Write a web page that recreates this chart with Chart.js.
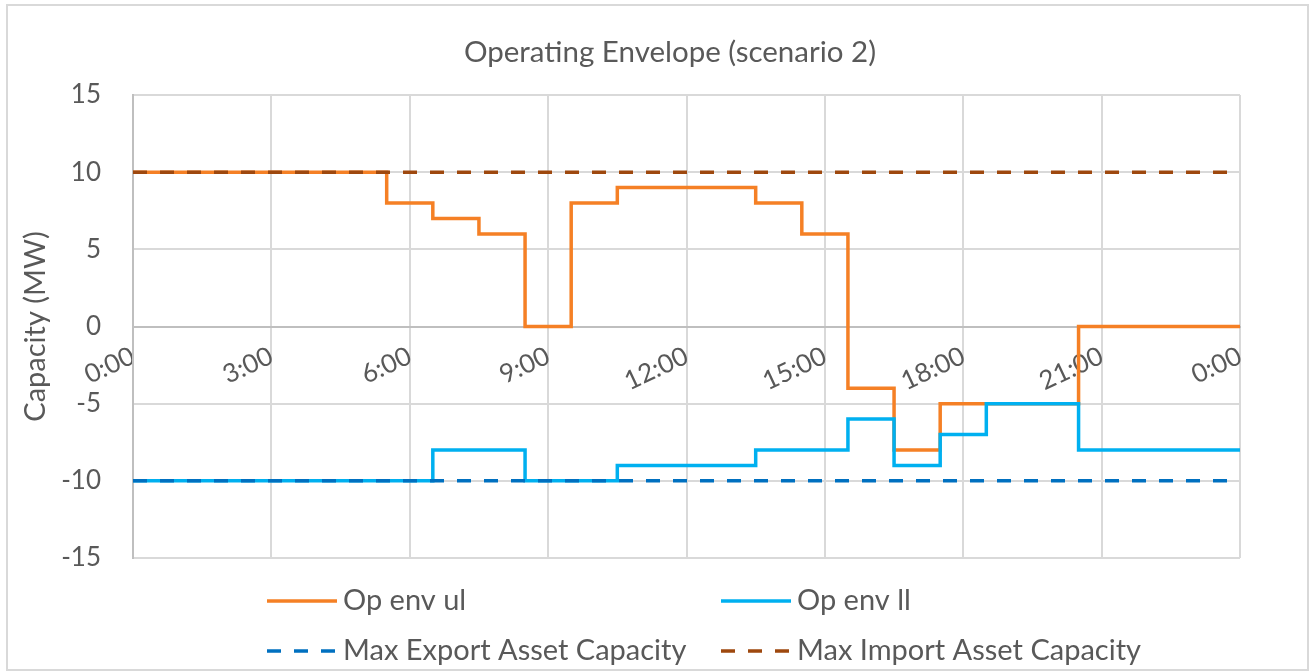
<!DOCTYPE html>
<html>
<head>
<meta charset="utf-8">
<title>Operating Envelope (scenario 2)</title>
<script src="https://cdn.jsdelivr.net/npm/chart.js@4/dist/chart.umd.min.js"></script>
<style>
  html, body { margin: 0; padding: 0; background: #fff; }
  canvas { display: block; }
</style>
</head>
<body>
<canvas id="envelopeChart" width="1310" height="672"></canvas>
<script>
// hours of the day where each series changes value
var ulTimes = [0, 5.5, 6.5, 7.5, 8.5, 9.5, 10.5, 13.5, 14.5, 15.5, 16.5, 17.5, 20.5, 24];
var ulValues = [10, 8, 7, 6, 0, 8, 9, 8, 6, -4, -8, -5, 0, 0];

var llTimes = [0, 6.5, 8.5, 10.5, 13.5, 15.5, 16.5, 17.5, 18.5, 20.5, 24];
var llValues = [-10, -8, -10, -9, -8, -6, -9, -7, -5, -8, -8];

var limitTimes = [0, 24];
var maxExport = [-10, -10];
var maxImport = [10, 10];

var seriesNames = ["Op env ul", "Op env ll", "Max Export Asset Capacity", "Max Import Asset Capacity"];
var yTicks = [-15, -10, -5, 0, 5, 10, 15];

var textColor = '#595959';
var fontFamily = 'Lato, "Open Sans", sans-serif';

function toPoints(times, values) {
    return times.map(function (t, i) { return { x: t, y: values[i] }; });
}

// title, legend and outer frame drawn by hand so they sit where Excel put them
var framePlugin = {
    id: 'frame',
    beforeDraw: function (chart) {
        var ctx = chart.ctx;
        ctx.save();
        ctx.fillStyle = '#fff';
        ctx.fillRect(0, 0, chart.width, chart.height);
        ctx.strokeStyle = '#D9D9D9';
        ctx.lineWidth = 2;
        ctx.strokeRect(7, 5, 1301, 665);
        ctx.restore();
    },
    afterDraw: function (chart) {
        var ctx = chart.ctx;
        ctx.save();
        ctx.fillStyle = textColor;
        ctx.textBaseline = 'middle';
        ctx.textAlign = 'center';
        ctx.font = '29.5px ' + fontFamily;
        ctx.fillText('Operating Envelope (scenario 2)', 670, 52);

        var cols = [267, 721];
        var rows = [601, 651];
        ctx.font = '29px ' + fontFamily;
        chart.data.datasets.forEach(function (ds, i) {
            var x = cols[i % 2];
            var y = rows[Math.floor(i / 2)];
            ctx.beginPath();
            ctx.strokeStyle = ds.borderColor;
            ctx.lineWidth = ds.borderWidth;
            ctx.setLineDash(ds.borderDash || []);
            ctx.moveTo(x, y);
            ctx.lineTo(x + 70, y);
            ctx.stroke();
            ctx.setLineDash([]);
            ctx.textAlign = 'left';
            ctx.fillText(ds.label, x + 76, y);
        });
        ctx.restore();
    }
};

var ctx = document.getElementById('envelopeChart').getContext('2d');
var envelopeChart = new Chart(ctx, {
    type: 'line',
    data: {
        datasets: [{
            label: seriesNames[0],
            data: toPoints(ulTimes, ulValues),
            borderColor: '#F58025',
            borderWidth: 3.5,
            stepped: 'before',
            pointRadius: 0,
            order: 4
        }, {
            label: seriesNames[1],
            data: toPoints(llTimes, llValues),
            borderColor: '#00B0F0',
            borderWidth: 3.5,
            stepped: 'before',
            pointRadius: 0,
            order: 3
        }, {
            label: seriesNames[2],
            data: toPoints(limitTimes, maxExport),
            borderColor: '#0070C0',
            borderWidth: 3.5,
            borderDash: [14, 13],
            pointRadius: 0,
            order: 2
        }, {
            label: seriesNames[3],
            data: toPoints(limitTimes, maxImport),
            borderColor: '#9E480E',
            borderWidth: 3.5,
            borderDash: [14, 13],
            pointRadius: 0,
            order: 1
        }]
    },
    options: {
        responsive: false,
        animation: false,
        layout: {
            padding: { top: 95, left: 8, right: 70, bottom: 114 }
        },
        plugins: {
            legend: { display: false },
            title: { display: false },
            tooltip: { enabled: false }
        },
        scales: {
            x: {
                type: 'linear',
                position: { y: 0 },
                min: 0,
                max: 24,
                grid: {
                    color: '#D9D9D9',
                    lineWidth: 2,
                    drawTicks: false
                },
                border: { color: '#BFBFBF', width: 2 },
                ticks: {
                    stepSize: 3,
                    minRotation: 25,
                    maxRotation: 25,
                    padding: 14,
                    color: textColor,
                    font: { family: fontFamily, size: 26 },
                    callback: function (value) { return (value % 24) + ':00'; }
                }
            },
            y: {
                min: yTicks[0],
                max: yTicks[yTicks.length - 1],
                afterFit: function (scale) { scale.width = 125; },
                afterBuildTicks: function (scale) {
                    scale.ticks = yTicks.map(function (v) { return { value: v }; });
                },
                grid: {
                    color: function (c) { return c.tick && c.tick.value === 0 ? '#BFBFBF' : '#D9D9D9'; },
                    lineWidth: 2,
                    drawTicks: false
                },
                border: { color: '#BFBFBF', width: 2 },
                ticks: {
                    padding: 32,
                    color: textColor,
                    font: { family: fontFamily, size: 26 }
                },
                title: {
                    display: true,
                    text: 'Capacity (MW)',
                    color: textColor,
                    font: { family: fontFamily, size: 29 },
                    padding: { top: 10, bottom: 0 }
                }
            }
        }
    },
    plugins: [framePlugin]
});
</script>
</body>
</html>
